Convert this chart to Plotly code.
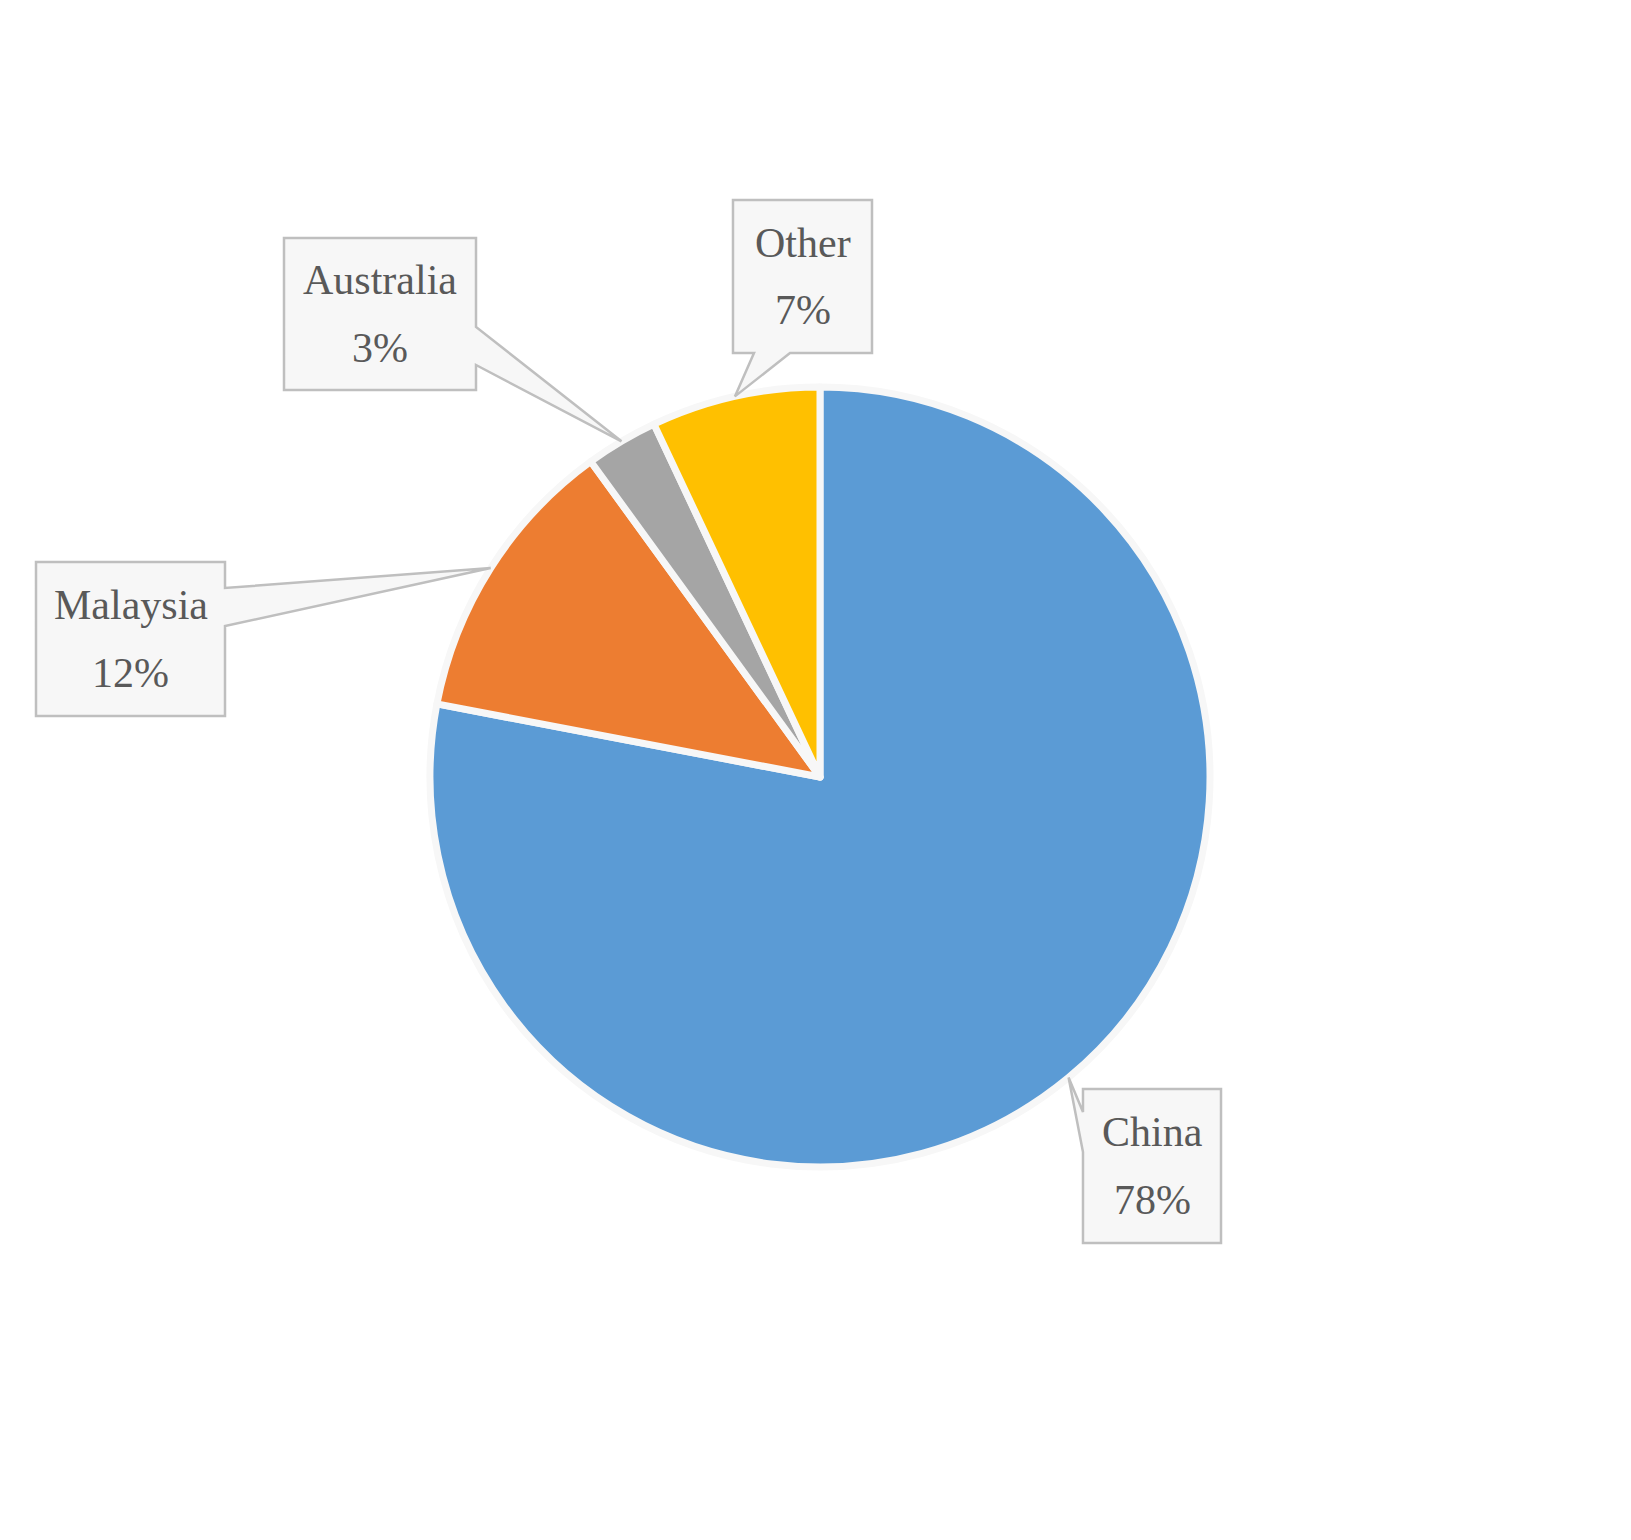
import math
import plotly.graph_objects as go

# ---- data ----
countries = ["China", "Malaysia", "Australia", "Other"]
shares = [78, 12, 3, 7]
pct_labels = ["78%", "12%", "3%", "7%"]
slice_colors = ["#5B9BD5", "#ED7D31", "#A5A5A5", "#FFC000"]

# ---- layout constants (pixels) ----
W, H = 1631, 1540
DX, DY = -7, -8
CX, CY, R = 819 + DX, 777 + DY, 390
TEXT_COLOR = "#595959"
FONT = "Liberation Serif"
FONT_SIZE = 42

# callout boxes: x0, y0, x1, y1, side of pointer, pointer base (start, end)
boxes_raw = {
    "China":     (1082, 1089, 1220, 1243, "left",   (1112, 1152)),
    "Malaysia":  (35, 562, 224, 716, "right",       (588, 626)),
    "Australia": (283, 238, 475, 390, "right",      (327, 365)),
    "Other":     (732, 200, 871, 353, "bottom",     (753, 789)),
}
boxes = {}
for k, (x0, y0, x1, y1, side, (b0, b1)) in boxes_raw.items():
    d = DX if side == "bottom" else DY
    boxes[k] = (x0 + DX, y0 + DY, x1 + DX, y1 + DY, side, (b0 + d, b1 + d))

def px(x):
    return x / W

def py(y):
    return 1 - y / H

fig = go.Figure()
fig.add_trace(go.Pie(
    labels=countries,
    values=shares,
    sort=False,
    direction="clockwise",
    rotation=0,
    textinfo="none",
    marker=dict(colors=slice_colors, line=dict(color="#F7F7F7", width=7)),
    showlegend=False,
    domain=dict(x=[px(CX - R), px(CX + R)], y=[py(CY + R), py(CY - R)]),
))

total = sum(shares)
cum = 0
shapes = []
annotations = []
for name, val, pct in zip(countries, shares, pct_labels):
    mid = (cum + val / 2) / total * 2 * math.pi
    cum += val
    tx = CX + R * math.sin(mid)
    ty = CY - R * math.cos(mid)
    x0, y0, x1, y1, side, (b0, b1) = boxes[name]
    if side == "right":
        pts = [(x0, y0), (x1, y0), (x1, b0), (tx, ty), (x1, b1), (x1, y1), (x0, y1)]
    elif side == "left":
        pts = [(x0, y0), (x1, y0), (x1, y1), (x0, y1), (x0, b1), (tx, ty), (x0, b0)]
    else:  # bottom
        pts = [(x0, y0), (x1, y0), (x1, y1), (b1, y1), (tx, ty), (b0, y1), (x0, y1)]
    path = "M " + " L ".join(f"{px(a):.5f},{py(b):.5f}" for a, b in pts) + " Z"
    shapes.append(dict(type="path", xref="paper", yref="paper", path=path,
                       fillcolor="#F7F7F7", line=dict(color="#BFBFBF", width=2.5),
                       layer="above"))
    bx = (x0 + x1) / 2
    by = (y0 + y1) / 2
    for txt, dy in ((name, -34), (pct, 34)):
        annotations.append(dict(xref="paper", yref="paper", x=px(bx), y=py(by + dy),
                                text=txt, showarrow=False, xanchor="center", yanchor="middle",
                                font=dict(family=FONT, size=FONT_SIZE, color=TEXT_COLOR)))

fig.update_layout(
    width=W, height=H,
    margin=dict(l=0, r=0, t=0, b=0),
    paper_bgcolor="white", plot_bgcolor="white",
    shapes=shapes, annotations=annotations,
)
fig.write_html("out.html")
